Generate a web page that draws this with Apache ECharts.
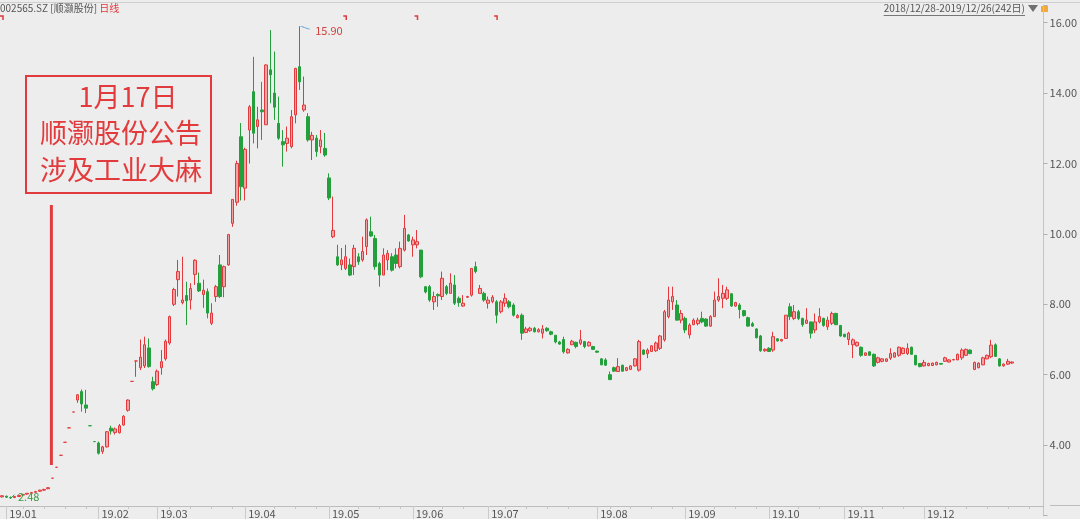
<!DOCTYPE html>
<html><head><meta charset="utf-8">
<script src="https://cdn.jsdelivr.net/npm/echarts@6/dist/echarts.min.js"></script>
<style>html,body{margin:0;padding:0;background:#ededed}#c{width:1080px;height:519px}</style>
</head><body><div id="c"></div><script>
// ---- data ----
const opens = [
2.53,2.55,2.51,2.51,2.54,2.58,2.61,2.63,2.66,2.69,
2.72,2.76,3.06,3.37,3.71,4.08,4.49,4.94,5.28,5.52,
5.14,4.55,4.10,4.06,3.82,3.95,4.48,4.36,4.35,4.57,
4.99,5.81,6.39,6.20,6.25,6.76,5.80,5.72,6.20,6.45,
6.90,8.00,8.70,8.05,8.25,8.12,8.85,8.60,8.28,8.36,
7.46,8.22,9.12,8.50,9.12,10.30,10.90,12.76,11.30,12.95,
14.04,13.05,13.52,13.10,14.66,14.00,13.14,12.62,12.57,12.48,
13.38,14.75,13.52,13.33,12.67,12.72,12.48,12.43,11.59,9.92,
9.35,9.12,9.02,9.12,9.07,9.35,9.26,9.64,10.06,9.87,
9.16,8.83,9.26,9.35,9.40,9.07,9.54,9.97,9.69,9.69,
9.54,8.50,8.50,8.07,8.28,8.22,8.50,8.31,8.55,8.17,
7.95,8.20,8.26,9.07,8.31,8.31,8.03,8.08,8.07,7.79,
8.03,8.07,7.98,7.62,7.69,7.20,7.25,7.32,7.22,7.18,
7.32,7.22,7.12,6.93,7.00,6.62,6.85,6.92,6.89,6.94,
6.82,6.80,6.67,6.45,6.42,6.00,6.20,6.09,6.27,6.12,
6.15,6.25,6.13,6.70,6.60,6.66,6.68,6.75,6.99,7.65,
8.07,7.98,7.55,7.60,7.13,7.42,7.45,7.60,7.58,7.38,
7.65,8.12,8.17,8.17,8.30,7.95,7.98,7.82,7.62,7.45,
7.30,7.10,6.68,6.75,6.70,7.02,6.96,7.03,7.93,7.60,
7.79,7.60,7.46,7.50,7.27,7.50,7.60,7.36,7.46,7.74,
7.40,7.15,7.00,6.85,6.82,6.78,6.55,6.65,6.58,6.35,
6.38,6.38,6.47,6.50,6.55,6.60,6.60,6.78,6.55,6.32,
6.25,6.26,6.26,6.28,6.32,6.38,6.36,6.42,6.42,6.48,
6.55,6.70,6.15,6.20,6.28,6.45,6.51,6.85,6.45,6.25,
6.30,6.33];
const closes = [
2.56,2.52,2.50,2.54,2.57,2.60,2.63,2.65,2.68,2.72,
2.74,2.79,3.06,3.37,3.71,4.08,4.49,4.94,5.43,5.17,
5.05,4.55,4.10,3.77,3.95,4.38,4.40,4.46,4.55,4.82,
5.28,5.81,6.39,6.50,6.85,6.23,5.60,6.10,6.37,6.95,
7.65,8.42,8.93,8.12,8.10,8.45,9.25,8.38,8.40,7.75,
7.75,8.50,8.22,9.07,9.98,10.98,12.00,11.34,12.40,13.61,
12.86,13.24,13.47,14.80,14.52,13.60,12.72,12.53,12.72,13.33,
14.70,14.32,13.66,12.67,12.80,12.34,12.67,12.24,11.02,10.10,
9.12,9.26,9.35,8.83,9.59,9.21,9.50,10.40,9.94,9.07,
8.83,9.40,9.45,8.97,9.16,9.59,10.16,9.80,9.83,9.78,
8.78,8.35,8.12,8.22,8.24,8.74,8.31,8.60,8.03,8.05,
8.03,8.22,9.02,8.93,8.45,8.12,8.12,8.20,7.69,8.07,
8.17,7.93,7.69,7.68,7.18,7.30,7.32,7.22,7.28,7.30,
7.25,7.15,6.93,6.87,6.65,6.72,6.95,6.80,6.99,6.80,
6.92,6.72,6.64,6.28,6.27,5.86,6.10,6.23,6.10,6.20,
6.25,6.45,6.94,6.58,6.70,6.82,6.90,7.10,7.79,8.12,
8.22,7.55,7.74,7.27,7.41,7.55,7.55,7.50,7.38,7.65,
8.12,8.22,8.31,8.41,7.95,8.05,7.85,7.68,7.38,7.38,
7.05,6.68,6.72,6.66,7.08,6.96,7.00,7.69,7.65,7.79,
7.60,7.42,7.55,7.18,7.50,7.65,7.40,7.55,7.74,7.42,
7.10,7.08,7.18,6.99,6.92,6.55,6.62,6.55,6.25,6.48,
6.45,6.45,6.60,6.62,6.78,6.75,6.75,6.58,6.28,6.23,
6.35,6.32,6.33,6.35,6.30,6.48,6.42,6.43,6.58,6.70,
6.72,6.60,6.35,6.33,6.48,6.55,6.84,6.52,6.25,6.30,
6.38,6.36];
const lows = [
2.51,2.50,2.48,2.50,2.53,2.56,2.59,2.62,2.64,2.67,
2.70,2.75,3.06,3.37,3.71,4.08,4.49,4.94,5.20,4.95,
4.91,4.55,4.10,3.73,3.75,3.93,4.30,4.30,4.33,4.55,
4.95,5.81,5.94,6.13,6.19,6.20,5.55,5.68,6.00,6.40,
6.85,7.95,8.22,8.00,7.41,7.85,8.55,8.35,7.90,7.60,
7.41,8.07,8.18,8.20,9.10,10.20,10.80,10.95,10.95,12.00,
12.57,12.43,12.67,13.10,13.71,13.24,12.67,11.91,12.34,12.43,
13.14,14.09,13.47,12.62,12.10,12.19,12.29,12.19,10.96,9.88,
9.09,8.97,8.97,8.80,8.83,9.12,9.21,9.40,9.92,8.98,
8.50,8.83,8.97,8.93,9.02,9.02,9.50,9.78,9.35,9.59,
8.74,8.31,8.07,7.84,7.93,8.12,8.26,8.31,7.98,7.93,
7.93,8.18,8.22,8.88,8.30,8.07,7.88,8.03,7.46,7.74,
7.93,7.88,7.65,7.60,6.99,7.18,7.22,7.20,7.20,7.03,
7.22,7.12,6.89,6.85,6.60,6.60,6.84,6.75,6.84,6.75,
6.80,6.70,6.62,6.27,6.25,5.85,6.09,6.08,6.09,6.10,
6.13,6.23,6.09,6.56,6.47,6.65,6.65,6.70,6.94,7.60,
7.84,7.55,7.46,7.18,7.03,7.41,7.40,7.46,7.36,7.36,
7.65,8.07,7.89,8.12,7.93,7.93,7.60,7.65,7.36,7.36,
7.03,6.65,6.65,6.65,6.65,6.94,6.94,7.03,7.55,7.55,
7.55,7.36,7.44,7.03,7.18,7.46,7.36,7.27,7.41,7.41,
7.08,7.06,6.84,6.47,6.80,6.51,6.53,6.54,6.22,6.32,
6.35,6.36,6.42,6.48,6.51,6.58,6.56,6.56,6.27,6.21,
6.23,6.24,6.25,6.27,6.29,6.37,6.35,6.41,6.42,6.42,
6.54,6.58,6.13,6.18,6.27,6.44,6.47,6.51,6.23,6.23,
6.28,6.31];
const highs = [
2.58,2.56,2.54,2.55,2.59,2.61,2.64,2.67,2.70,2.73,
2.76,2.80,3.06,3.37,3.71,4.08,4.49,4.94,5.45,5.58,
5.57,4.55,4.10,4.10,3.98,4.40,4.55,4.50,4.60,4.85,
5.30,5.81,6.39,7.00,7.08,7.03,5.94,6.15,6.70,7.00,
7.68,8.47,9.26,9.35,8.64,8.60,9.28,8.90,8.70,8.45,
8.03,8.55,9.40,9.10,10.00,10.98,12.08,13.15,12.45,13.66,
15.03,13.61,14.32,14.82,15.79,15.18,13.90,12.95,13.05,13.52,
14.72,15.90,14.47,13.43,12.90,12.81,12.95,12.87,11.72,11.06,
9.69,9.60,9.69,9.30,9.69,9.45,9.92,10.44,10.49,9.97,
9.21,9.59,9.54,9.45,9.59,9.78,10.54,10.00,9.92,10.11,
9.54,8.52,8.55,8.36,8.31,8.93,8.55,8.88,8.83,8.22,
8.26,8.24,9.03,9.21,8.55,8.36,8.22,8.26,8.12,8.12,
8.31,8.12,8.03,7.72,7.74,7.36,7.36,7.36,7.32,7.41,
7.35,7.25,7.13,6.96,7.08,6.75,6.99,6.94,7.27,6.96,
6.95,6.82,6.68,6.47,6.47,6.09,6.23,6.47,6.28,6.22,
6.27,6.47,6.99,6.72,6.75,6.84,6.94,7.13,7.84,8.50,
8.50,8.12,7.84,7.65,7.46,7.60,7.62,7.79,7.60,7.69,
8.36,8.74,8.55,8.50,8.31,8.07,8.03,7.84,7.65,7.50,
7.32,7.13,6.75,6.78,7.22,7.03,7.02,7.69,8.03,7.98,
7.84,7.62,7.89,7.50,7.74,7.89,7.62,7.65,7.79,7.76,
7.41,7.16,7.22,7.03,6.94,6.80,6.63,6.66,6.60,6.51,
6.47,6.46,6.75,6.64,6.80,6.78,6.89,6.80,6.56,6.33,
6.42,6.34,6.34,6.37,6.33,6.51,6.44,6.45,6.60,6.75,
6.74,6.72,6.37,6.35,6.51,6.57,6.99,6.89,6.47,6.32,
6.45,6.38];

const tickLabels = ['19.01','19.02','19.03','19.04','19.05','19.06','19.07','19.08','19.09','19.10','19.11','19.12'];
const tickIndex  = [1,23,37,58,78,98,116,142,163,183,201,220];
const yTickValues = [4,6,8,10,12,14,16];
const slotCount = 249;              // 242 trading days + empty right margin
const markerIndex = [0,82,99,118];  // small red info markers along the top
const noteIndex = 12;               // 1月17日
const noteLines = ['1月17日','顺灏股份公告','涉及工业大麻'];
const headerCode = '002565.SZ [顺灏股份]';
const headerPeriod = '日线';
const headerRange = '2018/12/28-2019/12/26(242日)';

// ---- build ----
const FONT = "'Noto Sans CJK SC','Noto Sans',sans-serif";
const categories = [];
for (let i = 0; i < slotCount; i++) categories.push(String(i));
const labelAt = {};
tickIndex.forEach((k, j) => { labelAt[k] = tickLabels[j]; });
const kdata = opens.map((o, i) => [o, closes[i], lows[i], highs[i]]);

let maxIdx = 0, minIdx = 0;
highs.forEach((v, i) => { if (v > highs[maxIdx]) maxIdx = i; });
lows.forEach((v, i) => { if (v < lows[minIdx]) minIdx = i; });

const chart = echarts.init(document.getElementById('c'), null, {renderer: 'canvas'});
const option = {
  animation: false,
  backgroundColor: '#ededed',
  grid: {left: 0, right: 30, top: 5.1, bottom: 3.5, containLabel: false},
  xAxis: [{
    type: 'category', data: categories, boundaryGap: true, position: 'bottom', offset: -9.5,
    axisLine: {show: true, lineStyle: {color: '#bdbdbd', width: 1}},
    axisTick: {show: true, alignWithLabel: true, length: 13, interval: (i) => labelAt[i] !== undefined,
               lineStyle: {color: '#cacaca'}},
    axisLabel: {show: true, interval: (i) => labelAt[i] !== undefined,
                formatter: (v, i) => labelAt[i] || '', align: 'left', margin: 2, padding: [0, 0, 0, 3],
                color: '#555', fontSize: 11, fontFamily: FONT},
    splitLine: {show: false}
  }, {
    type: 'category', data: categories, boundaryGap: true, position: 'bottom', offset: -9.5,
    axisLine: {show: false}, axisLabel: {show: false}, splitLine: {show: false},
    axisTick: {show: true, alignWithLabel: true, length: 3,
               interval: (i) => i % 5 === 0 && !tickIndex.some(k => Math.abs(k - i) < 3),
               lineStyle: {color: '#c4c4c4'}}
  }],
  yAxis: {
    type: 'value', position: 'right', min: 2, max: 16.5, interval: 2, scale: false,
    axisLine: {show: true, lineStyle: {color: '#c4c4c4'}},
    axisTick: {show: true, length: 4, lineStyle: {color: '#b0b0b0'}},
    axisLabel: {show: true, margin: 6, color: '#555', fontSize: 11, fontFamily: FONT,
                formatter: (v) => yTickValues.indexOf(v) >= 0 ? v.toFixed(2) : ''},
    splitLine: {show: false}
  },
  series: [{
    type: 'candlestick', xAxisIndex: 0, data: kdata, barWidth: 3, silent: true,
    itemStyle: {color: '#f2a2a2', color0: '#23a03c', borderColor: '#e3393c', borderColor0: '#23a03c', borderWidth: 1},
    markPoint: {
      silent: true, animation: false,
      data: [{
        coord: [maxIdx, highs[maxIdx]],
        symbol: 'path://M0,0 L2,0 L4,1 L10,3', symbolSize: [10, 3], symbolOffset: [5, 1.5], symbolKeepAspect: false,
        itemStyle: {color: 'none', borderColor: '#6aa6d8', borderWidth: 1},
        label: {show: true, position: 'right', distance: 1, offset: [0, 3], formatter: highs[maxIdx].toFixed(2),
                color: '#d0403c', fontSize: 11, fontFamily: FONT}
      }, {
        coord: [minIdx, lows[minIdx]],
        symbol: 'path://M0,4 L4,0', symbolSize: [4, 4], symbolOffset: [2, -2], symbolKeepAspect: false,
        itemStyle: {color: 'none', borderColor: '#3a9a42', borderWidth: 1},
        label: {show: true, position: 'right', distance: 1, offset: [0, 0], formatter: lows[minIdx].toFixed(2),
                color: '#3a9a42', fontSize: 11, fontFamily: FONT}
      }]
    }
  }]
};
chart.setOption(option);

// ---- decorations ----
const px = (i) => chart.convertToPixel({xAxisIndex: 0}, i);
const noteX = px(noteIndex);
const red = '#e23b3d';
const ctx = document.createElement('canvas').getContext('2d');
ctx.font = '10px ' + FONT;
const rangeW = ctx.measureText(headerRange).width;
const graphic = [
  {type: 'line', shape: {x1: 0, y1: 2.5, x2: 1080, y2: 2.5}, style: {stroke: '#cfcfcf', lineWidth: 1}, silent: true},
  {type: 'line', shape: {x1: 1050, y1: 505.5, x2: 1080, y2: 505.5}, style: {stroke: '#bdbdbd', lineWidth: 1}, silent: true},
  {type: 'text', left: 0, top: 3, silent: true,
   style: {text: '{a|' + headerCode + '} {b|' + headerPeriod + '}', font: '10px ' + FONT,
           rich: {a: {fill: '#555', fontSize: 10, fontFamily: FONT}, b: {fill: '#e0393b', fontSize: 10, fontFamily: FONT}}}},
  {type: 'text', x: 1025, y: 3, silent: true,
   style: {text: headerRange, fill: '#555', fontSize: 10, fontFamily: FONT, textAlign: 'right', textVerticalAlign: 'top'}},
  {type: 'line', shape: {x1: 1025 - rangeW, y1: 15.5, x2: 1025, y2: 15.5}, style: {stroke: '#777', lineWidth: 1}, silent: true},
  {type: 'polygon', shape: {points: [[1028, 5], [1038, 5], [1033, 12]]}, style: {fill: '#6f6f6f'}, silent: true},
  {type: 'rect', shape: {x: 1041, y: 6, width: 7, height: 6}, style: {fill: '#f2a93b'}, silent: true},
  {type: 'rect', shape: {x: 26, y: 76, width: 185, height: 117}, style: {fill: 'none', stroke: red, lineWidth: 2}, silent: true},
  {type: 'text', x: 128, y: 97, silent: true,
   style: {text: noteLines[0], fill: red, fontSize: 27, fontFamily: FONT, textAlign: 'center', textVerticalAlign: 'middle'}},
  {type: 'text', x: 121, y: 133, silent: true,
   style: {text: noteLines[1], fill: red, fontSize: 27, fontFamily: FONT, textAlign: 'center', textVerticalAlign: 'middle'}},
  {type: 'text', x: 121, y: 170, silent: true,
   style: {text: noteLines[2], fill: red, fontSize: 27, fontFamily: FONT, textAlign: 'center', textVerticalAlign: 'middle'}},
  {type: 'line', shape: {x1: noteX - 1, y1: 205, x2: noteX - 1, y2: 465}, style: {stroke: red, lineWidth: 3}, silent: true}
];
markerIndex.forEach((k) => {
  const x = Math.max(px(k), 2.5);
  graphic.push({type: 'polyline', shape: {points: [[x - 2.5, 16], [x + 0.5, 16], [x + 0.5, 20]]},
                style: {stroke: '#e0393b', lineWidth: 1.5, fill: 'none'}, silent: true});
});
chart.setOption({graphic: graphic});
</script></body></html>
